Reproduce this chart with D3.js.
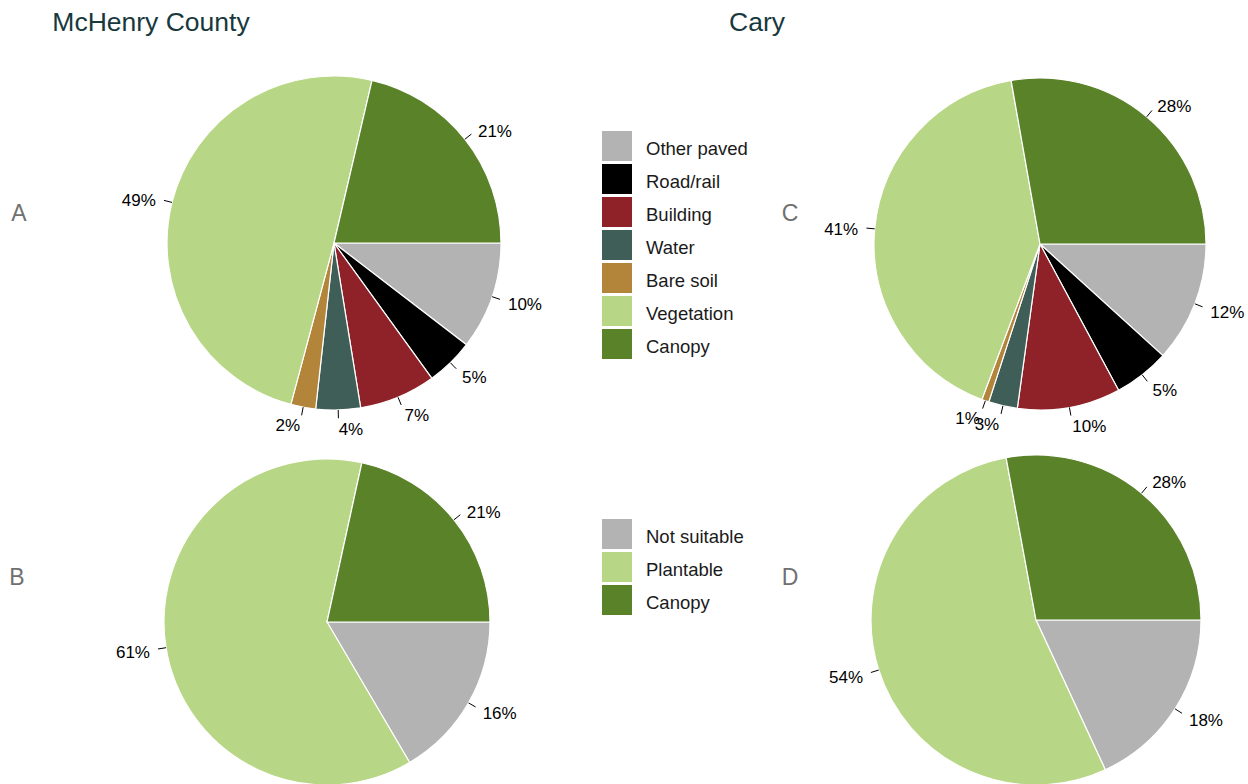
<!DOCTYPE html>
<html>
<head>
<meta charset="utf-8">
<script src="https://cdn.jsdelivr.net/npm/d3@7"></script>
<style>
  html, body { margin: 0; padding: 0; background: #ffffff; }
  svg { display: block; font-family: "Liberation Sans", Arial, sans-serif; }
</style>
</head>
<body>
<svg id="chart" width="1248" height="784"></svg>
<script>
// ---- data ----
const landCategories = ["Other paved", "Road/rail", "Building", "Water", "Bare soil", "Vegetation", "Canopy"];
const landColors = ["#b3b3b3", "#000000", "#8e2228", "#3f5e58", "#b3853a", "#b7d786", "#5a8229"];
const mchenryLand = [10.4, 4.6, 7.4, 4.3, 2.4, 49.4, 21.3];
const caryLand = [11.7, 5.4, 10.0, 2.8, 0.7, 41.4, 27.7];

const plantCategories = ["Not suitable", "Plantable", "Canopy"];
const plantColors = ["#b3b3b3", "#b7d786", "#5a8229"];
const mchenryPlant = [16.4, 61.4, 21.4];
const caryPlant = [18.1, 54.0, 27.9];

const titles = ["McHenry County", "Cary"];
const panelLetters = ["A", "B", "C", "D"];

// ---- layout ----
const svg = d3.select("#chart");

const panels = [
  { values: mchenryLand, colors: landColors, cx: 334, cy: 243, r: 167, letter: panelLetters[0], lx: 19, ly: 213 },
  { values: mchenryPlant, colors: plantColors, cx: 327, cy: 622, r: 163, letter: panelLetters[1], lx: 17, ly: 577 },
  { values: caryLand, colors: landColors, cx: 1040, cy: 244, r: 166, letter: panelLetters[2], lx: 790, ly: 213 },
  { values: caryPlant, colors: plantColors, cx: 1036, cy: 620, r: 165, letter: panelLetters[3], lx: 790, ly: 577 }
];

const pie = d3.pie().sort(null).value(d => d)
  .startAngle(Math.PI / 2).endAngle(Math.PI / 2 + 2 * Math.PI);

panels.forEach(p => {
  const g = svg.append("g").attr("transform", `translate(${p.cx},${p.cy})`);
  const arcs = pie(p.values);
  const arc = d3.arc().innerRadius(0).outerRadius(p.r);
  g.selectAll("path.slice").data(arcs).join("path")
    .attr("class", "slice")
    .attr("d", arc)
    .attr("fill", (d, i) => p.colors[i])
    .attr("stroke", "#ffffff")
    .attr("stroke-width", 1.2);

  const pos = (a, k) => [Math.sin(a) * p.r * k, -Math.cos(a) * p.r * k];
  arcs.forEach((d, i) => {
    const m = (d.startAngle + d.endAngle) / 2;
    const p1 = pos(m, 1.0), p2 = pos(m, 1.05), p3 = pos(m, 1.1);
    g.append("line")
      .attr("x1", p1[0]).attr("y1", p1[1])
      .attr("x2", p2[0]).attr("y2", p2[1])
      .attr("stroke", "#000").attr("stroke-width", 1);
    g.append("text")
      .attr("x", p3[0]).attr("y", p3[1] + 2)
      .attr("dy", "0.35em")
      .attr("text-anchor", p3[0] < 0 ? "end" : "start")
      .attr("font-size", 17)
      .attr("fill", "#000")
      .text(Math.round(d.data) + "%");
  });

  svg.append("text")
    .attr("x", p.lx).attr("y", p.ly)
    .attr("dy", "0.35em")
    .attr("text-anchor", "middle")
    .attr("font-size", 23)
    .attr("fill", "#707070")
    .text(p.letter);
});

// titles
svg.append("text").attr("x", 151).attr("y", 22).attr("dy", "0.35em")
  .attr("text-anchor", "middle").attr("font-size", 26.5).attr("fill", "#17393d").text(titles[0]);
svg.append("text").attr("x", 757).attr("y", 22).attr("dy", "0.35em")
  .attr("text-anchor", "middle").attr("font-size", 26.5).attr("fill", "#17393d").text(titles[1]);

// legends
function legend(cats, colors, x, y0) {
  const lg = svg.append("g").attr("transform", `translate(${x},${y0})`);
  const rows = lg.selectAll("g").data(cats).join("g")
    .attr("transform", (d, i) => `translate(0,${i * 33})`);
  rows.append("rect").attr("width", 30).attr("height", 30)
    .attr("fill", (d, i) => colors[i]);
  rows.append("text").attr("x", 44).attr("y", 18).attr("dy", "0.35em")
    .attr("font-size", 18.5).attr("fill", "#1a1a1a").text(d => d);
}
legend(landCategories, landColors, 602, 131);
legend(plantCategories, plantColors, 602, 519);
</script>
</body>
</html>
